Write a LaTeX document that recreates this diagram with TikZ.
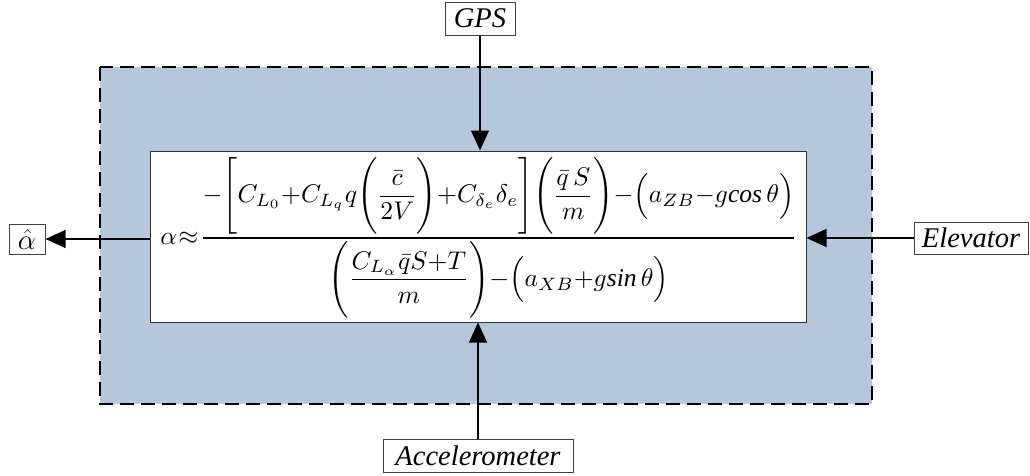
\documentclass[tikz,border=0pt]{standalone}
\usepackage{fontspec}
\setmainfont{Liberation Serif}
\usepackage{amsmath}
\usetikzlibrary{arrows.meta}
\definecolor{panel}{HTML}{B4C7DC}
\begin{document}
\begin{tikzpicture}[x=1pt,y=-1pt,
  lbl/.style={draw=black!75,line width=1pt,fill=white,inner sep=0pt,font=\fontsize{28.5}{32}\selectfont\itshape},
  conn/.style={line width=1.1pt,-{Triangle[length=20pt,width=18pt]}}]
\useasboundingbox (0,0) rectangle (1030,475);
\fill[white] (0,0) rectangle (1030,475);
\draw[fill=panel,line width=2.4pt,dash pattern=on 14pt off 7pt] (100,67) rectangle (872,404);
\node[draw=black!80,line width=1pt,fill=white,minimum width=656pt,minimum height=171pt,inner sep=0pt] (box) at (478,236.5) {};
\node[inner sep=0pt] (eq) at (479,238) {\resizebox{637pt}{!}{\medmuskip=0mu\thickmuskip=1mu$\displaystyle \alpha\approx\frac{-\Biggl[C_{L_0}+C_{L_q}q\Biggl(\dfrac{\bar c}{2V}\Biggr)+C_{\delta_e}\delta_e\Biggr]\Biggl(\dfrac{\bar q\,S}{m}\Biggr)-\Bigl(a_{ZB}-g\mathit{cos}\,\theta\Bigr)}{\Biggl(\dfrac{C_{L_\alpha}\bar q S+T}{m}\Biggr)-\Bigl(a_{XB}+g\mathit{sin}\,\theta\Bigr)}$}};
\node[lbl,minimum width=70pt,minimum height=33pt] (gps) at (480,18.5) {GPS};
\node[lbl,minimum width=36pt,minimum height=30pt] (ahat) at (27,239) {\resizebox{!}{20pt}{$\hat\alpha$}};
\node[lbl,minimum width=114pt,minimum height=32pt] (elev) at (971,238) {Elevator};
\node[lbl,minimum width=190pt,minimum height=33pt] (acc) at (478,455.5) {Accelerometer};
\draw[conn] (gps.south) -- (gps.south |- box.north);
\draw[conn] (acc.north) -- (acc.north |- box.south);
\draw[conn] (elev.west) -- (elev.west -| box.east);
\draw[conn] (ahat.east -| box.west) -- (ahat.east);
\end{tikzpicture}
\end{document}
